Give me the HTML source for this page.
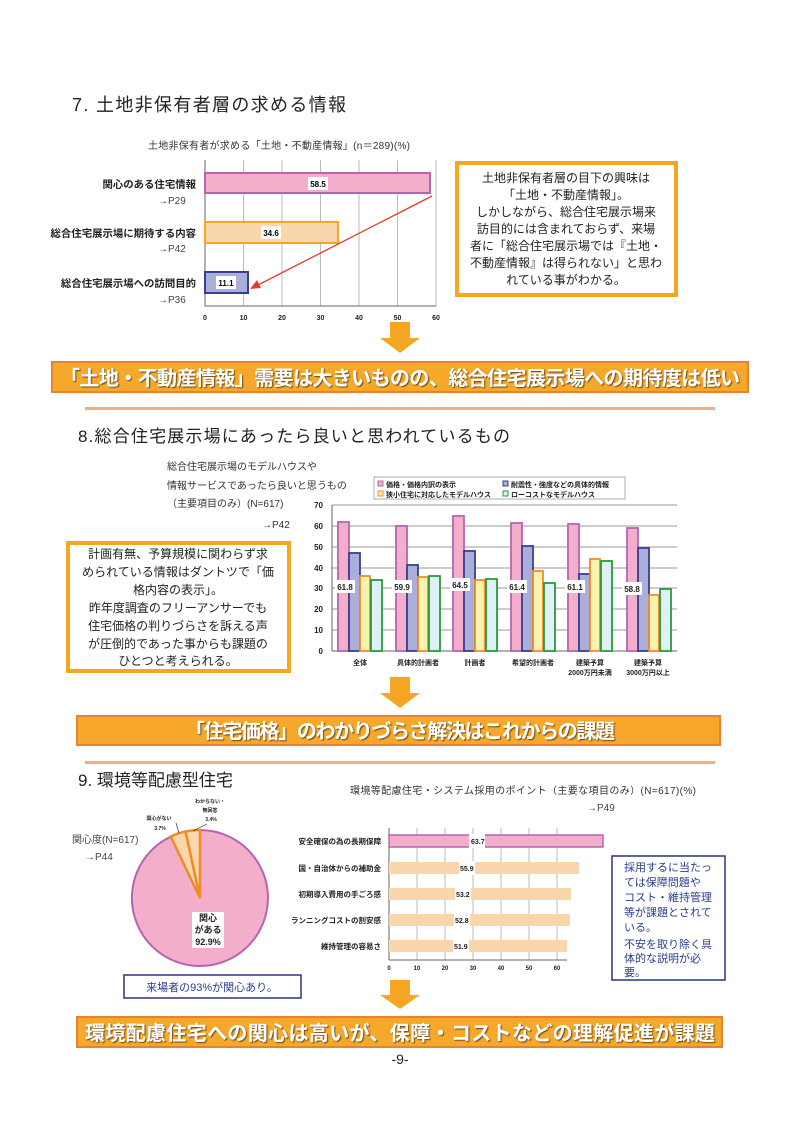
<!DOCTYPE html>
<html><head><meta charset="utf-8"><style>
html,body{margin:0;padding:0;background:#fff;}
svg{display:block;}
text{font-family:"Liberation Sans","Noto Sans CJK JP",sans-serif;}
.b{font-weight:bold;}
</style></head><body>
<svg width="800" height="1131" viewBox="0 0 800 1131" xmlns="http://www.w3.org/2000/svg">
<defs>
<filter id="sh" x="-5%" y="-20%" width="110%" height="140%"><feDropShadow dx="1" dy="1" stdDeviation="0.4" flood-color="#5a3a10" flood-opacity="0.9"/></filter>
</defs>

<!-- Section 7 -->
<text x="72" y="111" font-size="18" fill="#222" textLength="274">7.  土地非保有者層の求める情報</text>
<text x="148" y="149" font-size="10" fill="#333" textLength="262">土地非保有者が求める「土地・不動産情報」(n＝289)(%)</text>

<g stroke="#bbb" stroke-width="1">
<line x1="243.5" y1="160" x2="243.5" y2="306"/><line x1="282" y1="160" x2="282" y2="306"/>
<line x1="320.5" y1="160" x2="320.5" y2="306"/><line x1="359" y1="160" x2="359" y2="306"/>
<line x1="397.5" y1="160" x2="397.5" y2="306"/><line x1="436" y1="160" x2="436" y2="306"/>
</g>
<line x1="205" y1="160" x2="205" y2="306" stroke="#666"/>
<line x1="205" y1="306" x2="436" y2="306" stroke="#666"/>
<rect x="205" y="173" width="225" height="20" fill="#f2aecb" stroke="#b565b0" stroke-width="2"/>
<rect x="205" y="222" width="133" height="21" fill="#fad6ad" stroke="#f5a623" stroke-width="2"/>
<rect x="205" y="272" width="43" height="21" fill="#aaaed8" stroke="#3a3e90" stroke-width="2"/>
<rect x="308" y="177" width="20" height="13" fill="#fff"/><text x="318" y="187" font-size="8" class="b" text-anchor="middle">58.5</text>
<rect x="261" y="226" width="20" height="13" fill="#fff"/><text x="271" y="236" font-size="8" class="b" text-anchor="middle">34.6</text>
<rect x="216" y="276" width="20" height="13" fill="#fff"/><text x="226" y="286" font-size="8" class="b" text-anchor="middle">11.1</text>
<g font-size="10.4" class="b" text-anchor="end" fill="#222">
<text x="196" y="188">関心のある住宅情報</text>
<text x="196" y="237">総合住宅展示場に期待する内容</text>
<text x="196" y="287">総合住宅展示場への訪問目的</text>
</g>
<g font-size="10" fill="#444">
<text x="158" y="204">→P29</text><text x="158" y="252">→P42</text><text x="158" y="303">→P36</text>
</g>
<g font-size="7" class="b" text-anchor="middle" fill="#222">
<text x="205" y="320">0</text><text x="243.5" y="320">10</text><text x="282" y="320">20</text><text x="320.5" y="320">30</text><text x="359" y="320">40</text><text x="397.5" y="320">50</text><text x="436" y="320">60</text>
</g>
<line x1="432" y1="196" x2="258" y2="285" stroke="#e83a2a" stroke-width="1.3"/>
<polygon points="250,289 257,280 261,288" fill="#e83a2a"/>

<rect x="457" y="163" width="219" height="132" fill="#fff" stroke="#f5a623" stroke-width="4"/>
<g font-size="12" text-anchor="middle" fill="#222">
<text x="566" y="182">土地非保有者層の目下の興味は</text>
<text x="566" y="199">「土地・不動産情報」。</text>
<text x="566" y="216">しかしながら、総合住宅展示場来</text>
<text x="566" y="233">訪目的には含まれておらず、来場</text>
<text x="566" y="250">者に「総合住宅展示場では『土地・</text>
<text x="566" y="267">不動産情報』は得られない」と思わ</text>
<text x="566" y="284">れている事がわかる。</text>
</g>

<polygon points="390,322 410,322 410,338 420,338 400,353 380,338 390,338" fill="#f5a623"/>
<rect x="52" y="362" width="696" height="30" fill="#f5a82a" stroke="#e8822e" stroke-width="2"/>
<text x="400" y="385" font-size="20" class="b" fill="#fff" text-anchor="middle" textLength="680" filter="url(#sh)">「土地・不動産情報」需要は大きいものの、総合住宅展示場への期待度は低い</text>
<rect x="85" y="407" width="630" height="3" fill="#f7ad75"/>

<!-- Section 8 -->
<text x="78" y="442" font-size="17" fill="#222" textLength="432">8.総合住宅展示場にあったら良いと思われているもの</text>
<g font-size="10" fill="#333">
<text x="167" y="470">総合住宅展示場のモデルハウスや</text>
<text x="167" y="489">情報サービスであったら良いと思うもの</text>
<text x="167" y="507">（主要項目のみ）(N=617)</text>
<text x="262" y="528">→P42</text>
</g>
<rect x="374" y="477" width="251" height="22" fill="#fff" stroke="#999" stroke-width="0.8"/>
<g font-size="7" class="b" fill="#222">
<rect x="378" y="481" width="5" height="5" fill="#f2aecb" stroke="#b565b0"/><text x="386" y="487">価格・価格内訳の表示</text>
<rect x="503" y="481" width="5" height="5" fill="#aaaed8" stroke="#3a3e90"/><text x="511" y="487">耐震性・強度などの具体的情報</text>
<rect x="378" y="491" width="5" height="5" fill="#faf3b0" stroke="#f08c28"/><text x="386" y="497">狭小住宅に対応したモデルハウス</text>
<rect x="503" y="491" width="5" height="5" fill="#ddf1f7" stroke="#2a9a3a"/><text x="511" y="497">ローコストなモデルハウス</text>
</g>
<g stroke="#bbb" stroke-width="1.5">
<line x1="332" y1="505" x2="677" y2="505"/><line x1="332" y1="526" x2="677" y2="526"/>
<line x1="332" y1="547" x2="677" y2="547"/><line x1="332" y1="568" x2="677" y2="568"/>
<line x1="332" y1="588" x2="677" y2="588"/><line x1="332" y1="609" x2="677" y2="609"/>
<line x1="332" y1="630" x2="677" y2="630"/>
</g>
<line x1="332" y1="505" x2="332" y2="651" stroke="#666"/>
<line x1="332" y1="651" x2="677" y2="651" stroke="#666"/>
<g font-size="8" class="b" text-anchor="end" fill="#222">
<text x="323" y="508">70</text><text x="323" y="529">60</text><text x="323" y="550">50</text><text x="323" y="571">40</text><text x="323" y="591">30</text><text x="323" y="612">20</text><text x="323" y="633">10</text><text x="323" y="654">0</text>
</g>
<g stroke-width="1.8">
<g fill="#f2aecb" stroke="#b565b0">
<rect x="338" y="522" width="11" height="129"/><rect x="396" y="526" width="11" height="125"/><rect x="453" y="516" width="11" height="135"/>
<rect x="511" y="523" width="11" height="128"/><rect x="568" y="524" width="11" height="127"/><rect x="627" y="528" width="11" height="123"/>
</g>
<g fill="#aaaed8" stroke="#3a3e90">
<rect x="349" y="553" width="11" height="98"/><rect x="407" y="565" width="11" height="86"/><rect x="464" y="551" width="11" height="100"/>
<rect x="522" y="546" width="11" height="105"/><rect x="579" y="574" width="11" height="77"/><rect x="638" y="548" width="11" height="103"/>
</g>
<g fill="#faf3b0" stroke="#f08c28">
<rect x="360" y="576" width="10" height="75"/><rect x="418" y="577" width="10" height="74"/><rect x="475" y="580" width="10" height="71"/>
<rect x="533" y="571" width="10" height="80"/><rect x="590" y="559" width="10" height="92"/><rect x="649" y="595" width="10" height="56"/>
</g>
<g fill="#ddf1f7" stroke="#2a9a3a">
<rect x="371" y="580" width="11" height="71"/><rect x="429" y="576" width="11" height="75"/><rect x="486" y="579" width="11" height="72"/>
<rect x="544" y="583" width="11" height="68"/><rect x="601" y="561" width="11" height="90"/><rect x="660" y="589" width="11" height="62"/>
</g>
</g>
<g font-size="8" class="b" text-anchor="middle" fill="#222">
<rect x="335" y="580" width="20" height="13" fill="#fff"/><text x="345" y="590">61.8</text>
<rect x="392" y="580" width="20" height="13" fill="#fff"/><text x="402" y="590">59.9</text>
<rect x="450" y="578" width="20" height="13" fill="#fff"/><text x="460" y="588">64.5</text>
<rect x="507" y="580" width="20" height="13" fill="#fff"/><text x="517" y="590">61.4</text>
<rect x="565" y="580" width="20" height="13" fill="#fff"/><text x="575" y="590">61.1</text>
<rect x="622" y="582" width="20" height="13" fill="#fff"/><text x="632" y="592">58.8</text>
</g>
<g font-size="7" class="b" text-anchor="middle" fill="#222">
<text x="360" y="665">全体</text><text x="418" y="665">具体的計画者</text><text x="475" y="665">計画者</text>
<text x="533" y="665">希望的計画者</text><text x="590" y="665">建築予算</text><text x="590" y="675">2000万円未満</text>
<text x="648" y="665">建築予算</text><text x="648" y="675">3000万円以上</text>
</g>

<rect x="68" y="543" width="221" height="128" fill="#fff" stroke="#f5a623" stroke-width="4"/>
<g font-size="12" text-anchor="middle" fill="#222">
<text x="178" y="558">計画有無、予算規模に関わらず求</text>
<text x="178" y="576">められている情報はダントツで「価</text>
<text x="178" y="594">格内容の表示」。</text>
<text x="178" y="612">昨年度調査のフリーアンサーでも</text>
<text x="178" y="630">住宅価格の判りづらさを訴える声</text>
<text x="178" y="648">が圧倒的であった事からも課題の</text>
<text x="178" y="665">ひとつと考えられる。</text>
</g>

<polygon points="390,677 410,677 410,693 420,693 400,708 380,693 390,693" fill="#f5a623"/>
<rect x="77" y="716" width="643" height="29" fill="#f5a82a" stroke="#e8822e" stroke-width="2"/>
<text x="400" y="738" font-size="20" class="b" fill="#fff" text-anchor="middle" textLength="430" filter="url(#sh)">「住宅価格」のわかりづらさ解決はこれからの課題</text>
<rect x="85" y="761" width="630" height="3" fill="#f7ad75"/>

<!-- Section 9 -->
<text x="78" y="786" font-size="17" fill="#222">9. 環境等配慮型住宅</text>
<text x="350" y="794" font-size="10" fill="#333" textLength="346">環境等配慮住宅・システム採用のポイント（主要な項目のみ）(N=617)(%)</text>
<text x="587" y="811" font-size="10" fill="#444">→P49</text>
<text x="72" y="843" font-size="10" fill="#444">関心度(N=617)</text>
<text x="85" y="860" font-size="10" fill="#444">→P44</text>

<path d="M200,898 L200,830 A68,68 0 1 1 170.7,836.6 Z" fill="#f2aecb" stroke="#b565b0" stroke-width="2"/>
<path d="M200,898 L170.7,836.6 A68,68 0 0 1 185.6,831.5 Z" fill="#fad6ad" stroke="#f08c28" stroke-width="2.5"/>
<path d="M200,898 L185.6,831.5 A68,68 0 0 1 200,830 Z" fill="#fad6ad" stroke="#f08c28" stroke-width="2.5"/>
<g font-size="5" class="b" text-anchor="middle" fill="#222">
<text x="159" y="820">関心がない</text><text x="160" y="830">3.7%</text>
<text x="210" y="803">わからない・</text><text x="210" y="812">無回答</text><text x="211" y="821">3.4%</text>
</g>
<line x1="176" y1="823" x2="179" y2="833" stroke="#222" stroke-width="0.6"/>
<line x1="207" y1="824" x2="193" y2="831" stroke="#222" stroke-width="0.6"/>
<rect x="192" y="912" width="32" height="36" fill="#fff"/>
<g font-size="9" class="b" text-anchor="middle" fill="#222">
<text x="208" y="921">関心</text><text x="208" y="933">がある</text><text x="208" y="945">92.9%</text>
</g>
<rect x="124" y="975" width="177" height="23" fill="#fff" stroke="#2a3480" stroke-width="1.5"/>
<text x="212" y="991" font-size="11" fill="#2a3d8f" text-anchor="middle">来場者の93%が関心あり。</text>

<g stroke="#bbb" stroke-width="1">
<line x1="417" y1="828" x2="417" y2="960"/><line x1="445" y1="828" x2="445" y2="960"/>
<line x1="473" y1="828" x2="473" y2="960"/><line x1="501" y1="828" x2="501" y2="960"/>
<line x1="529" y1="828" x2="529" y2="960"/><line x1="557" y1="828" x2="557" y2="960"/>
</g>
<line x1="389" y1="828" x2="389" y2="960" stroke="#666"/>
<line x1="389" y1="960" x2="567" y2="960" stroke="#666"/>
<rect x="389" y="835" width="214" height="12" fill="#f2aecb" stroke="#b565b0" stroke-width="1.5"/>
<g fill="#fad6ad">
<rect x="389" y="862" width="190" height="12"/><rect x="389" y="888" width="182" height="12"/>
<rect x="389" y="914" width="181" height="12"/><rect x="389" y="940" width="178" height="12"/>
</g>
<g font-size="7" class="b" fill="#222">
<rect x="469" y="834" width="16" height="14" fill="#fff"/><text x="471" y="844">63.7</text>
<rect x="459" y="861" width="16" height="14" fill="#fff"/><text x="460" y="871">55.9</text>
<rect x="455" y="887" width="16" height="14" fill="#fff"/><text x="456" y="897">53.2</text>
<rect x="454" y="913" width="16" height="14" fill="#fff"/><text x="455" y="923">52.8</text>
<rect x="453" y="939" width="16" height="14" fill="#fff"/><text x="454" y="949">51.9</text>
</g>
<g font-size="7.5" class="b" text-anchor="end" fill="#222">
<text x="381" y="844">安全確保の為の長期保障</text>
<text x="381" y="871">国・自治体からの補助金</text>
<text x="381" y="897">初期導入費用の手ごろ感</text>
<text x="381" y="923">ランニングコストの割安感</text>
<text x="381" y="949">維持管理の容易さ</text>
</g>
<g font-size="6" class="b" text-anchor="middle" fill="#222">
<text x="389" y="970">0</text><text x="417" y="970">10</text><text x="445" y="970">20</text><text x="473" y="970">30</text><text x="501" y="970">40</text><text x="529" y="970">50</text><text x="557" y="970">60</text>
</g>
<rect x="612" y="856" width="113" height="124" fill="#fff" stroke="#2a3480" stroke-width="1.5"/>
<g font-size="11" fill="#2a3d8f">
<text x="624" y="871">採用するに当たっ</text><text x="624" y="886">ては保障問題や</text>
<text x="624" y="901">コスト・維持管理</text><text x="624" y="916">等が課題とされて</text>
<text x="624" y="931">いる。</text><text x="624" y="948">不安を取り除く具</text>
<text x="624" y="962">体的な説明が必</text><text x="624" y="976">要。</text>
</g>

<polygon points="390,980 410,980 410,995 420,995 400,1009 380,995 390,995" fill="#f5a623"/>
<rect x="77" y="1017" width="645" height="30" fill="#f5a82a" stroke="#e8822e" stroke-width="2"/>
<text x="400" y="1040" font-size="20" class="b" fill="#fff" text-anchor="middle" textLength="630" filter="url(#sh)">環境配慮住宅への関心は高いが、保障・コストなどの理解促進が課題</text>
<text x="400" y="1064" font-size="14" fill="#222" text-anchor="middle">-9-</text>
</svg>
</body></html>
